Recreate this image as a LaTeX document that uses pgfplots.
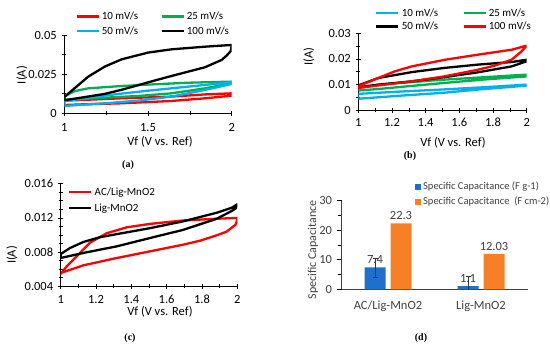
\documentclass[border=0pt]{standalone}
\usepackage{fontspec}
\setmainfont{Carlito}
\newfontfamily\capfont{Liberation Serif}
\usepackage{pgfplots}
\pgfplotsset{compat=1.18}
\definecolor{cred}{RGB}{255,0,0}
\definecolor{cgreen}{RGB}{0,176,80}
\definecolor{cblue}{RGB}{0,176,240}
\definecolor{dblue}{RGB}{30,112,200}
\definecolor{dorange}{RGB}{247,127,38}
\definecolor{dgray}{RGB}{64,64,64}
\pgfplotsset{
  cvaxis/.style={
    scale only axis, axis lines*=left, axis line style={-, line width=0.8pt},
    tick align=center, major tick length=5pt, minor tick length=4pt,
    tick style={black, line width=0.6pt},
    scaled ticks=false,
    /pgf/number format/assume math mode=true,
    tick label style={font=\fontsize{12.5}{14}\selectfont},
    yticklabel style={/pgf/number format/fixed, /pgf/number format/precision=3, xshift=-1.5pt},
    label style={font=\fontsize{12.5}{14}\selectfont},
    xmin=1, xmax=2,
    legend cell align=left,
    legend style={draw=none, fill=none, font=\fontsize{11}{12}\selectfont, inner sep=0pt, row sep=1.5pt},
    legend image code/.code={\draw[##1, line width=2.6pt] (0pt,0pt) -- (22pt,0pt);},
    every axis plot/.append style={line width=2.3pt, line join=round, mark=none},
  },
  sqlegend/.style={legend image code/.code={\fill[##1] (0pt,-3pt) rectangle (6pt,3pt);}},
}
\begin{document}
\begin{tikzpicture}[x=1pt,y=1pt]
\path[use as bounding box] (0pt,0pt) rectangle (550pt,350pt);

% ---------------- (a)
\begin{axis}[cvaxis, at={(64.3pt,236.7pt)}, anchor=south west, width=167.4pt, height=78pt,
  ymin=0, ymax=0.05, ytick={0,0.025,0.05}, minor y tick num=1,
  xtick={1,1.5,2}, minor x tick num=1,
  xticklabel style={yshift=-4pt},
  xlabel={Vf (V vs. Ref)}, ylabel={I(A)},
  xlabel style={at={(axis description cs:0.572,-0.364)}, anchor=center},
  ylabel style={at={(axis description cs:-0.253,0.49)}, anchor=center},
  legend columns=2,
  legend style={at={(axis description cs:0.064,1.33)}, anchor=north west,
    /tikz/every even column/.append style={column sep=20pt}}]
\addplot[cred] coordinates {(1,0.0081) (1.1,0.0085) (1.34,0.0096) (1.64,0.0107) (1.84,0.0121) (2,0.0128)
 (2,0.0113) (1.84,0.0096) (1.64,0.0079) (1.34,0.0064) (1.1,0.0057) (1,0.0053) (1,0.0081)};
\addlegendentry{10 mV/s}
\addplot[cgreen] coordinates {(1,0.0105) (1.03,0.0125) (1.064,0.0143) (1.143,0.016) (1.343,0.0175) (1.54,0.0186) (1.74,0.0196) (2,0.0203)
 (2,0.0192) (1.84,0.016) (1.64,0.0128) (1.44,0.0111) (1.24,0.010) (1,0.0085) (1,0.0105)};
\addlegendentry{25 mV/s}
\addplot[cblue] coordinates {(1,0.0078) (1.25,0.0115) (1.5,0.0145) (1.75,0.0172) (2,0.0199)
 (2,0.0188) (1.84,0.015) (1.64,0.0107) (1.44,0.0081) (1.24,0.0064) (1,0.0047) (1,0.0078)};
\addlegendentry{50 mV/s}
\addplot[black] coordinates {(1,0.0105) (1.05,0.015) (1.143,0.0235) (1.243,0.030) (1.343,0.0346) (1.5,0.0389) (1.64,0.041) (1.84,0.0427) (2,0.0438)
 (1.995,0.040) (1.97,0.037) (1.94,0.0342) (1.84,0.0295) (1.74,0.0267) (1.64,0.0239) (1.54,0.021) (1.44,0.018) (1.34,0.015) (1.24,0.0124) (1.14,0.0107) (1.04,0.009) (1,0.0085) (1,0.0105)};
\addlegendentry{100 mV/s}
\end{axis}

% ---------------- (b)
\begin{axis}[cvaxis, at={(358.3pt,239.7pt)}, anchor=south west, width=168.4pt, height=77pt,
  ymin=0, ymax=0.03, ytick={0,0.01,0.02,0.03}, minor y tick num=1,
  xtick={1,1.2,...,2}, minor x tick num=1,
  xticklabel style={/pgf/number format/fixed, yshift=-2pt},
  xlabel={Vf (V vs. Ref)}, ylabel={I(A)},
  xlabel style={at={(axis description cs:0.562,-0.421)}, anchor=center},
  ylabel style={at={(axis description cs:-0.293,0.696)}, anchor=center},
  legend columns=2,
  legend style={at={(axis description cs:0.099,1.35)}, anchor=north west, row sep=0pt,
    /tikz/every even column/.append style={column sep=22pt}}]
\addplot[cblue] coordinates {(1,0.0064) (1.25,0.0073) (1.5,0.0081) (1.75,0.0090) (2,0.0100)
 (2,0.0096) (1.75,0.0083) (1.5,0.0068) (1.25,0.0057) (1,0.0045) (1,0.0064)};
\addlegendentry{10 mV/s}
\addplot[cgreen] coordinates {(1,0.0087) (1.12,0.0100) (1.5,0.0119) (1.75,0.0129) (2,0.0139)
 (2,0.0132) (1.75,0.0120) (1.5,0.0106) (1.12,0.0083) (1,0.0077) (1,0.0087)};
\addlegendentry{25 mV/s}
\addplot[black] coordinates {(1,0.0097) (1.12,0.0126) (1.32,0.0149) (1.51,0.0165) (1.71,0.0178) (1.91,0.0188) (2,0.0197)
 (2,0.0191) (1.91,0.0171) (1.71,0.0148) (1.51,0.0129) (1.32,0.0113) (1.12,0.0100) (1,0.0090) (1,0.0097)};
\addlegendentry{50 mV/s}
\addplot[cred] coordinates {(1,0.0094) (1.119,0.0126) (1.218,0.0152) (1.317,0.0171) (1.515,0.0197) (1.713,0.0217) (1.911,0.0236) (2,0.0252)
 (1.97,0.023) (1.91,0.0197) (1.81,0.0174) (1.71,0.0158) (1.51,0.0132) (1.32,0.0113) (1.12,0.0097) (1,0.0087) (1,0.0094)};
\addlegendentry{100 mV/s}
\end{axis}

% ---------------- (c)
\begin{axis}[cvaxis, at={(60.7pt,63.7pt)}, anchor=south west, width=176.6pt, height=102.6pt,
  ymin=0.004, ymax=0.016, ytick={0.004,0.008,0.012,0.016}, minor y tick num=3,
  xtick={1,1.2,...,2}, minor x tick num=1,
  xticklabel style={/pgf/number format/fixed, yshift=-3pt},
  xlabel={Vf (V vs. Ref)}, ylabel={I(A)},
  xlabel style={at={(axis description cs:0.562,-0.25)}, anchor=center},
  ylabel style={at={(axis description cs:-0.276,0.305)}, anchor=center},
  legend style={at={(axis description cs:0.041,0.985)}, anchor=north west, row sep=3pt}]
\addplot[cred] coordinates {(1,0.00544) (1.034,0.00634) (1.09,0.0075) (1.166,0.0091) (1.26,0.0102) (1.374,0.0109) (1.506,0.0113) (1.694,0.0117) (1.883,0.0119) (2,0.0120)
 (2,0.0118) (1.99,0.0112) (1.94,0.0104) (1.883,0.00996) (1.79,0.00934) (1.694,0.00887) (1.506,0.00809) (1.317,0.00731) (1.128,0.00645) (1,0.00556) (1,0.00544)};
\addlegendentry{AC/Lig-MnO2}
\addplot[black] coordinates {(1,0.00778) (1.053,0.00848) (1.128,0.00918) (1.22,0.00973) (1.317,0.0101) (1.506,0.0108) (1.694,0.0116) (1.883,0.0126) (1.97,0.0132) (2,0.0136)
 (1.99,0.0131) (1.968,0.0128) (1.883,0.0119) (1.694,0.0106) (1.506,0.00965) (1.317,0.00867) (1.128,0.0079) (1,0.00731) (1,0.00778)};
\addlegendentry{Lig-MnO2}
\end{axis}

% ---------------- (d)
\begin{axis}[at={(341.5pt,60.7pt)}, anchor=south west, scale only axis, width=186pt, height=88.6pt,
  ymin=0, ymax=30, xmin=-0.5, xmax=1.5,
  axis lines*=left, axis line style={-, line width=0.8pt, black!75},
  ybar=5pt, bar width=21pt,
  xtick={0,1}, xticklabels={AC/Lig-MnO2, Lig-MnO2}, xtick style={draw=none},
  xticklabel style={yshift=-3pt},
  ytick={0,10,20,30}, minor y tick num=1,
  tick align=outside, major tick length=5pt, minor tick length=4pt,
  ytick style={black, line width=0.6pt},
  yticklabel style={xshift=-1pt},
  /pgf/number format/assume math mode=true,
  tick label style={font=\fontsize{12.5}{14}\selectfont, text=dgray},
  ylabel={Specific Capacitance},
  ylabel style={at={(axis description cs:-0.153,0.444)}, anchor=center, font=\fontsize{12}{13}\selectfont, text=dgray},
  nodes near coords,
  every node near coord/.append style={font=\fontsize{12.5}{14}\selectfont, text=dgray},
  legend cell align=left,
  legend style={draw=none, fill=none, font=\fontsize{10.5}{12}\selectfont, text=dgray, inner sep=0pt, row sep=2pt,
    at={(axis description cs:0.395,1.235)}, anchor=north west}]
\addplot[fill=dblue, draw=none, sqlegend,
  error bars/.cd, y dir=both, y explicit,
  error bar style={black!80, line width=0.5pt},
  error mark options={rotate=90, mark size=2.5pt, black!80}]
  coordinates {(0,7.4) +- (0,3.2) (1,1.1) +- (0,3.2)};
\addlegendentry{Specific Capacitance (F g-1)}
\addplot[fill=dorange, draw=none, sqlegend] coordinates {(0,22.3) (1,12.03)};
\addlegendentry{Specific Capacitance~ (F cm-2)}
\end{axis}

% captions
\node[font=\capfont\bfseries\fontsize{10}{11}\selectfont] at (128pt,185pt) {(a)};
\node[font=\capfont\bfseries\fontsize{10}{11}\selectfont] at (410pt,194pt) {(b)};
\node[font=\capfont\bfseries\fontsize{10}{11}\selectfont] at (130pt,12pt) {(c)};
\node[font=\capfont\bfseries\fontsize{10}{11}\selectfont] at (421pt,12pt) {(d)};
\end{tikzpicture}
\end{document}
